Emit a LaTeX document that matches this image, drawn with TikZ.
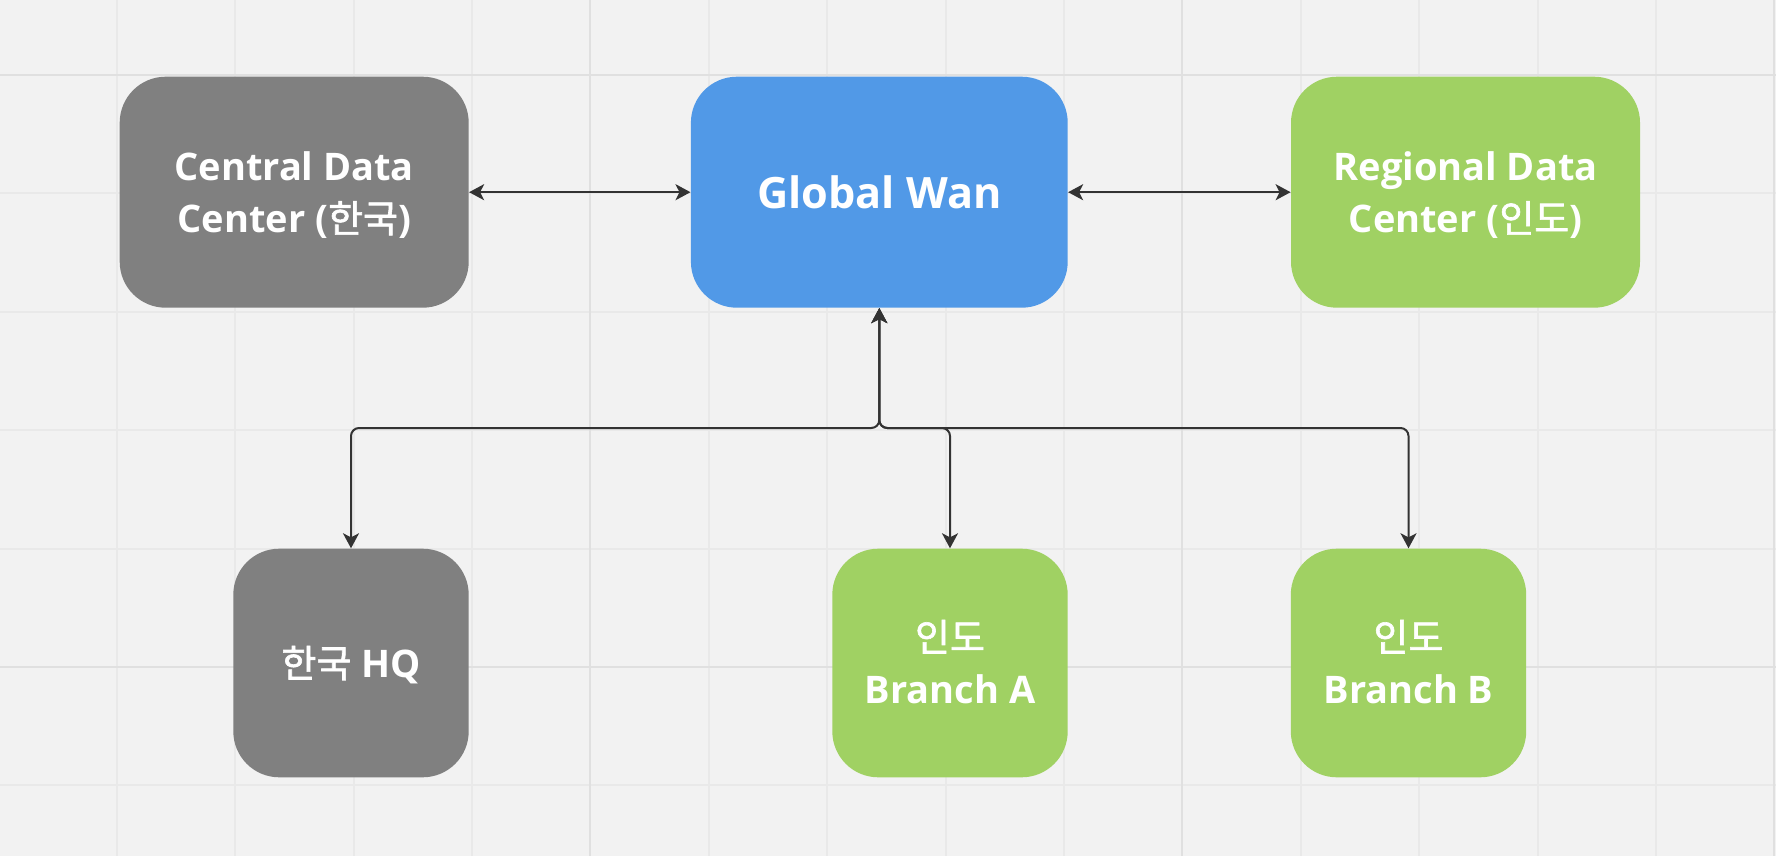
\documentclass[tikz,border=0pt]{standalone}
\usepackage{fontspec}
\setmainfont{Open Sans}
\newfontfamily\kr{Noto Sans CJK KR}[BoldFont=*, BoldFeatures={FakeBold=1.6}]
\usetikzlibrary{arrows.meta}
\newcommand\lnstrut{\rule[-0.25em]{0pt}{1.25em}}
\definecolor{bgc}{HTML}{F2F2F2}
\definecolor{gridminor}{HTML}{E9E9E9}
\definecolor{gridmajor}{HTML}{E0E0E0}
\definecolor{boxgrey}{HTML}{808080}
\definecolor{boxblue}{HTML}{5199E7}
\definecolor{boxgreen}{HTML}{A0D163}
\definecolor{wire}{HTML}{333333}
\tikzset{
  card/.style={rectangle, rounded corners=23pt, inner sep=0pt, text=white,
    align=center, font=\bfseries\fontsize{19}{26}\selectfont,
    minimum height=115.5pt},
  wide/.style={card, minimum width=174.5pt},
  narrow/.style={card, minimum width=117.7pt, minimum height=114.3pt},
  link/.style={draw=wire, line width=1pt,
    {Stealth[length=7.5pt,width=8pt,inset=2pt]}-{Stealth[length=7.5pt,width=8pt,inset=2pt]}},
  elbow/.style={link, rounded corners=4pt},
}
\begin{document}
\begin{tikzpicture}[x=0.5pt,y=-0.5pt]
\useasboundingbox (0,0) rectangle (1776,856);
\fill[bgc] (0,0) rectangle (1776,856);
% grid
\foreach \n in {0,...,14}{
  \pgfmathsetmacro{\gx}{116.7+118.4*\n}
  \draw[gridminor, line width=1pt] (\gx,0) -- (\gx,856);
}
\foreach \m in {0,...,6}{
  \pgfmathsetmacro{\gy}{75+118.4*\m}
  \draw[gridminor, line width=1pt] (0,\gy) -- (1776,\gy);
}
\foreach \n in {4,9,14}{
  \pgfmathsetmacro{\gx}{116.7+118.4*\n}
  \draw[gridmajor, line width=1pt] (\gx,0) -- (\gx,856);
}
\foreach \m in {0,5}{
  \pgfmathsetmacro{\gy}{75+118.4*\m}
  \draw[gridmajor, line width=1pt] (0,\gy) -- (1776,\gy);
}
% nodes
\node[wide, fill=boxgrey] (central) at (294.2,192.2) {\lnstrut Central Data\\\lnstrut Center ({\kr 한국})};
\node[card, fill=boxblue, minimum width=188.4pt, font=\bfseries\fontsize{21.6}{28}\selectfont] (wan) at (879.3,192.2) {\lnstrut Global Wan};
\node[wide, fill=boxgreen] (regional) at (1465.5,192.2) {\lnstrut Regional Data\\\lnstrut Center ({\kr 인도})};
\node[narrow, fill=boxgrey] (hq) at (351,663) {\lnstrut{\kr 한국} HQ};
\node[narrow, fill=boxgreen] (ba) at (950,663) {\lnstrut{\kr 인도}\\\lnstrut Branch A};
\node[narrow, fill=boxgreen] (bb) at (1408.5,663) {\lnstrut{\kr 인도}\\\lnstrut Branch B};
% connectors
\draw[link] (central.east) -- (wan.west);
\draw[link] (wan.east) -- (regional.west);
\coordinate (split) at (879.3,428);
\draw[elbow] (wan.south) -- (split) -| (hq.north);
\draw[elbow] (wan.south) -- (split) -| (ba.north);
\draw[elbow] (wan.south) -- (split) -| (bb.north);
\end{tikzpicture}
\end{document}
